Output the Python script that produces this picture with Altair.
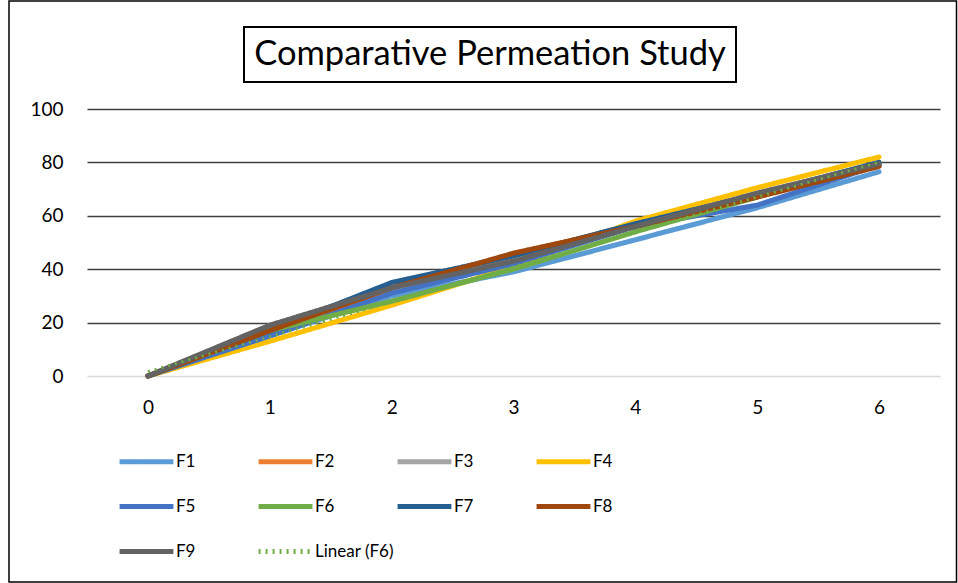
import altair as alt
import pandas as pd

x_vals = [0, 1, 2, 3, 4, 5, 6]
series_names = ["F1", "F2", "F3", "F4", "F5", "F6", "F7", "F8", "F9"]
F1 = [0, 15, 30, 39, 51, 63, 76.5]
F2 = [0, 16, 33, 45, 57, 68, 79]
F3 = [0, 19, 33, 43, 56, 68, 79]
F4 = [0, 13, 26.5, 41, 58, 70.5, 82]
F5 = [0, 15, 31, 42, 56, 64, 79]
F6 = [0, 17, 28, 40, 54, 67, 80]
F7 = [0, 17, 35, 45, 57, 68, 80]
F8 = [0, 17, 33, 46, 56, 67, 78.5]
F9 = [0, 19, 33, 43, 56, 68.5, 79.5]
series_values = [F1, F2, F3, F4, F5, F6, F7, F8, F9]
trend_name = "Linear (F6)"
y_ticks = [0, 20, 40, 60, 80, 100]
colors = ["#5B9BD5", "#ED7D31", "#A5A5A5", "#FFC000", "#4472C4",
          "#70AD47", "#255E91", "#9E480E", "#636363", "#70AD47"]
title_text = "Comparative Permeation Study"

rows = []
for name, vals in zip(series_names, series_values):
    for xv, yv in zip(x_vals, vals):
        rows.append({"series": name, "x": xv, "y": yv})
df = pd.DataFrame(rows)
df_f6 = pd.DataFrame({"x": x_vals, "y": F6})

FONT = "Lato"
domain_all = series_names + [trend_name]

legend_def = alt.Legend(
    title=None, orient="none", legendX=30, legendY=323, columns=4,
    direction="horizontal",
    symbolType="stroke", symbolSize=2900, symbolStrokeWidth=5,
    labelFontSize=17, labelFont=FONT, labelColor="#000000",
    labelFontWeight="normal",
    labelOffset=0, gridAlign="all", columnPadding=-7, rowPadding=5,
    labelLimit=200,
)

color_enc = alt.Color("series:N",
                      scale=alt.Scale(domain=domain_all, range=colors),
                      legend=legend_def)
dash_enc = alt.StrokeDash("series:N",
                          scale=alt.Scale(domain=domain_all,
                                          range=[[1, 0]] * 9 + [[2, 5]]),
                          legend=legend_def)

x_enc = alt.X("x:Q", scale=alt.Scale(domain=[-0.5, 6.5], nice=False),
              axis=alt.Axis(values=x_vals, grid=False, domain=False, ticks=False,
                            labelPadding=22, title=None, format="d",
                            labelFontSize=19, labelFont=FONT, labelColor="#000000"))
y_enc = alt.Y("y:Q", scale=alt.Scale(domain=[0, 100], nice=False),
              axis=alt.Axis(values=y_ticks, grid=True, domain=False, ticks=False,
                            labelPadding=24, title=None,
                            labelFontSize=19, labelFont=FONT, labelColor="#000000",
                            gridColor={"condition": {"test": "datum.value === 0", "value": "#D9D9D9"},
                                       "value": "#404040"},
                            gridWidth=1.5))

lines = alt.Chart(df).mark_line(strokeWidth=5, strokeCap="round", strokeJoin="round").encode(
    x=x_enc, y=y_enc, color=color_enc, strokeDash=dash_enc,
    order=alt.Order("x:Q"),
)

trend = alt.Chart(df_f6).transform_regression(
    "x", "y", extent=[0, 6]
).transform_calculate(series=f"'{trend_name}'").mark_line(strokeWidth=3).encode(
    x="x:Q", y="y:Q", color=color_enc, strokeDash=dash_enc,
)

dummy = pd.DataFrame({"a": [1]})
title_box = alt.Chart(dummy).mark_rect(fillOpacity=0, stroke="#000000", strokeWidth=2).encode(
    x=alt.value(157), x2=alt.value(649), y=alt.value(-82), y2=alt.value(-27)
)
title_mark = alt.Chart(dummy).mark_text(
    font=FONT, fontSize=34.5, fontWeight="normal", color="#000000",
    align="center", baseline="middle"
).encode(x=alt.value(403), y=alt.value(-54), text=alt.value(title_text))
outer_box = alt.Chart(dummy).mark_rect(fillOpacity=0, stroke="#000000", strokeWidth=1.5).encode(
    x=alt.value(-78), x2=alt.value(869.5), y=alt.value(-108), y2=alt.value(473)
)

chart = alt.layer(outer_box, title_box, title_mark, lines, trend).properties(
    width=853, height=267,
    autosize=alt.AutoSizeParams(type="none"),
    padding={"left": 87, "top": 109, "right": 18, "bottom": 207},
    background="white",
).configure_view(stroke=None)

chart.save("out.html", embed_options={"renderer": "svg", "actions": False})
